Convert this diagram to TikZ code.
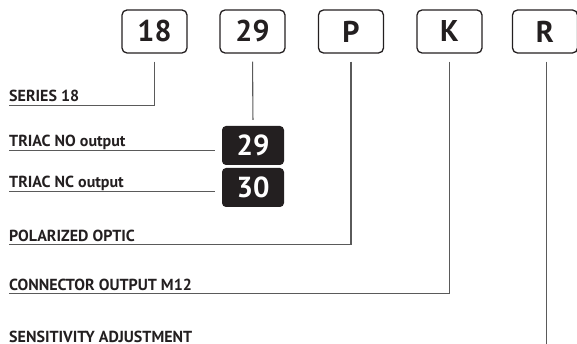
\documentclass[tikz,border=0pt]{standalone}
\usepackage{fontspec}
\setmainfont{PT Sans}
\usetikzlibrary{positioning}
\definecolor{ink}{HTML}{231F20}
\definecolor{leadgray}{HTML}{5A5A5A}

\begin{document}
\begin{tikzpicture}[x=1pt, y=-1pt,
    code box/.style={draw=ink, line width=1.3pt, rounded corners=5pt, minimum width=65pt, minimum height=43pt, inner sep=0pt, font=\fontsize{30}{30}\selectfont\bfseries, text=ink},
    option box/.style={fill=ink, rounded corners=4pt, minimum width=62pt, minimum height=39pt, inner sep=0pt, font=\fontsize{29}{29}\selectfont\bfseries, text=white},
    caption/.style={anchor=base west, inner sep=0pt, font=\fontsize{16}{16}\selectfont\bfseries, text=ink},
    lead/.style={draw=leadgray, line width=1.1pt}]
    \useasboundingbox (0,0) rectangle (577,344);

    % code fields
    \node[code box] (b18) at (154.5,31.5) {18};
    \node[code box] (b29) at (252.5,31.5) {29};
    \node[code box] (bP) at (351,31.5) {P};
    \node[code box] (bK) at (449.5,31.5) {K};
    \node[code box] (bR) at (545,31.5) {R};

    % output options
    \node[option box] (n29) at (253,145.5) {29};
    \node[option box] (n30) at (253,187.5) {30};

    % captions
    \node[caption] (s18) at (9,102) {SERIES 18};
    \node[caption] (tNO) at (9,147) {TRIAC NO output};
    \node[caption] (tNC) at (9,188) {TRIAC NC output};
    \node[caption] (pol) at (9,241) {POLARIZED OPTIC};
    \node[caption] (con) at (9,290) {CONNECTOR OUTPUT M12};
    \node[caption] (sen) at (9,342.5) {SENSITIVITY ADJUSTMENT};

    \coordinate (uNO) at ([yshift=-3.5pt]tNO.base west);
    \coordinate (uNC) at ([yshift=-3.5pt]tNC.base west);

    % leader lines
    \draw[lead, shorten <=8pt] (b18.south) |- ([yshift=-3.5pt]s18.base west);
    \draw[lead, shorten <=8pt, shorten >=6pt] (b29.south) -- (n29.north);
    \draw[lead, shorten >=7pt] (uNO) -- (uNO -| n29.west);
    \draw[lead, shorten >=7pt] (uNC) -- (uNC -| n30.west);
    \draw[lead, shorten <=8pt] (bP.south) |- ([yshift=-3.5pt]pol.base west);
    \draw[lead, shorten <=8pt] (bK.south) |- ([yshift=-3.5pt]con.base west);
    \draw[lead, shorten <=8pt] ([xshift=1.5pt]bR.south) |- ([yshift=-4pt]sen.base west);
\end{tikzpicture}
\end{document}
